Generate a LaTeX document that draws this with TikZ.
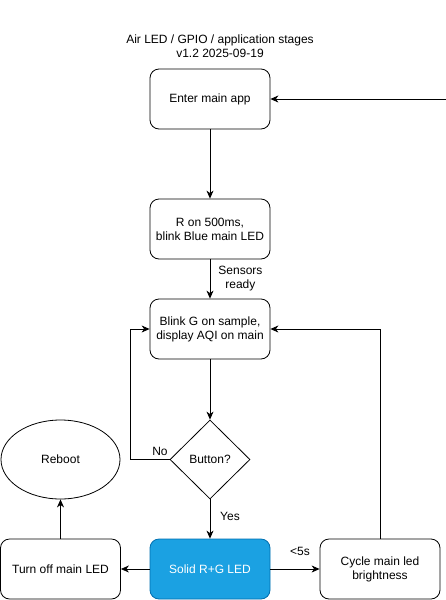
\documentclass[tikz,border=0pt]{standalone}
\usepackage{fontspec}
\setmainfont{Liberation Sans}
\usetikzlibrary{arrows.meta,shapes.geometric}
\definecolor{fillblue}{HTML}{1BA1E2}
\definecolor{lineblue}{HTML}{006EAF}
\begin{document}
\begin{tikzpicture}[x=1pt,y=-1pt,
  every node/.style={font=\fontsize{12}{14}\selectfont},
  box/.style={draw, rounded corners=9pt, minimum width=120pt, minimum height=60pt, align=center, inner sep=0pt, line width=0.8pt},
  conn/.style={draw, line width=0.8pt, -{Stealth[length=8pt,width=7pt,inset=2.5pt]}},
  lbl/.style={align=center, inner sep=0pt}]
\useasboundingbox (0,0) rectangle (446,600);
\node[lbl] (title) at (220,46) {Air LED / GPIO / application stages\\v1.2 2025-09-19};
\node[box] (enter) at (210,99) {Enter main app};
\node[box] (ron) at (210,229) {R on 500ms,\\blink Blue main LED};
\node[box] (blink) at (210,329) {Blink G on sample,\\display AQI on main};
\node[draw, diamond, aspect=1, minimum width=80pt, minimum height=79pt, inner sep=0pt, line width=0.8pt] (btn) at (210,459.5) {Button?};
\node[box, fill=fillblue, draw=lineblue, text=white] (solid) at (210,569) {Solid R+G LED};
\node[box] (off) at (60.5,569) {Turn off main LED};
\node[draw, ellipse, minimum width=119pt, minimum height=79pt, inner sep=0pt, line width=0.8pt] (reboot) at (60.5,459.5) {Reboot};
\node[box] (cycle) at (380,569) {Cycle main led\\brightness};
\coordinate (ext) at (446,99);
\coordinate (nocorner) at (130,459.5);
\coordinate (cycorner) at (380,329);
\draw[conn] (ext) -- (enter.east);
\draw[conn] (enter) -- (ron);
\draw[conn] (ron) -- node[lbl, right=8pt, pos=0.5] (sens) {Sensors\\ready} (blink);
\draw[conn] (blink) -- (btn);
\draw[conn] (btn.west) -- (nocorner) |- (blink.west);
\node[lbl] (no) at (160,451) {No};
\draw[conn] (btn.south) -- (solid.north);
\node[lbl] (yes) at (230,516) {Yes};
\draw[conn] (solid.west) -- (off.east);
\draw[conn] (solid.east) -- (cycle.west);
\node[lbl] (lt5) at (300,551) {<5s};
\draw[conn] (off.north) -- (reboot.south);
\draw[conn] (cycle.north) -- (cycorner) -- (blink.east);
\end{tikzpicture}
\end{document}
